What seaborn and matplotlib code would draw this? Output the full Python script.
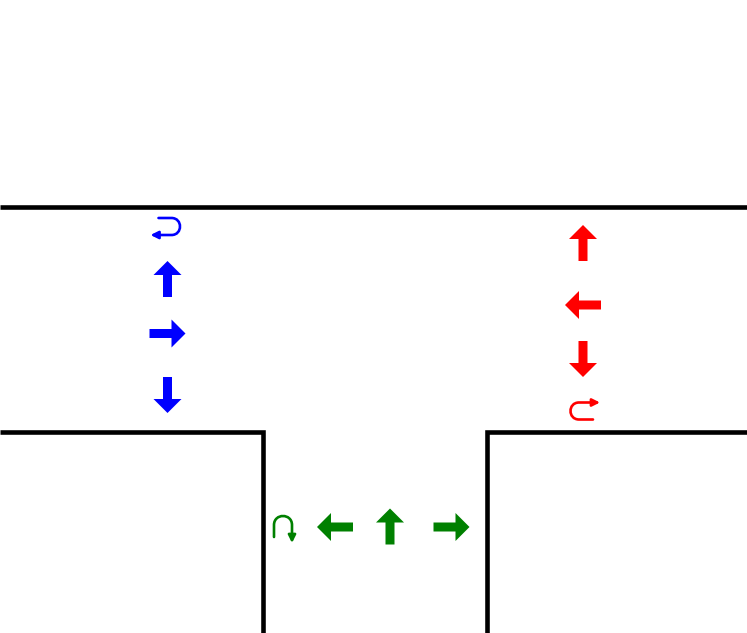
import numpy as np
import pandas as pd
import matplotlib
matplotlib.use("Agg")
import matplotlib.pyplot as plt
import seaborn as sns
from matplotlib.path import Path
from matplotlib.patches import FancyArrowPatch

# Kerb / road edge lines (pixel coords, y grows downward)
edge_names = ["top", "top", "left", "left", "left", "right", "right", "right"]
edge_x = [0, 747, 0, 262.5, 262.5, 747, 487, 487]
edge_y = [207, 207, 431.5, 431.5, 633, 431.5, 431.5, 633]

# Straight lane arrows: centre, direction
blue_x = [167.5, 167.5, 167.5]
blue_y = [279, 333.5, 395]
blue_dir = ["up", "right", "down"]

red_x = [583, 583, 583]
red_y = [243, 305, 359]
red_dir = ["up", "left", "down"]

green_x = [335, 390, 451.5]
green_y = [527, 526.5, 527]
green_dir = ["left", "up", "right"]

# U-turn markers: centre of the bend, opening direction
uturn_x = [171.5, 579, 283]
uturn_y = [226.5, 411, 525]
uturn_kind = ["blue", "red", "green"]

colors = {"blue": "#0000ff", "red": "#ff0000", "green": "#008000"}

sns.set_style("white")
fig = plt.figure(figsize=(7.47, 6.33), dpi=100)
ax = fig.add_axes([0, 0, 1, 1])

df = pd.DataFrame({"seg": edge_names, "x": edge_x, "y": edge_y})
sns.lineplot(data=df, x="x", y="y", units="seg", estimator=None, sort=False,
             color="black", lw=3.3, ax=ax, legend=False,
             solid_joinstyle="miter", solid_capstyle="butt")

vec = {"up": (0, -1), "down": (0, 1), "left": (-1, 0), "right": (1, 0)}
L = 36


def lane_arrow(x, y, d, c):
    ux, uy = vec[d]
    ax.arrow(x - ux * L / 2, y - uy * L / 2, ux * L, uy * L, width=9,
             head_width=28, head_length=14, length_includes_head=True,
             color=c, lw=0)


for xs, ys, ds, c in [(blue_x, blue_y, blue_dir, "blue"),
                      (red_x, red_y, red_dir, "red"),
                      (green_x, green_y, green_dir, "green")]:
    for x, y, d in zip(xs, ys, ds):
        lane_arrow(x, y, d, colors[c])


def uturn(cx, cy, kind):
    r = 8.5
    k = 4 / 3 * r
    C = Path.CURVE4
    if kind == "blue":
        # bend on the right, arrow leaves the bottom towards the left
        verts = [(cx - 13, cy - r), (cx, cy - r), (cx + k, cy - r),
                 (cx + k, cy + r), (cx, cy + r), (cx - 21, cy + r)]
    elif kind == "red":
        # bend on the left, arrow leaves the top towards the right
        verts = [(cx + 14, cy + r), (cx, cy + r), (cx - k, cy + r),
                 (cx - k, cy - r), (cx, cy - r), (cx + 21, cy - r)]
    else:
        # bend on top, arrow leaves the right leg downward
        verts = [(cx - 9, cy + 12), (cx - 9, cy), (cx - 9, cy - 12),
                 (cx + 9, cy - 12), (cx + 9, cy), (cx + 9, cy + 18)]
    codes = [Path.MOVETO, Path.LINETO, C, C, C, Path.LINETO]
    p = FancyArrowPatch(path=Path(verts, codes), arrowstyle="-|>",
                        mutation_scale=11, lw=1.9, color=colors[kind])
    ax.add_patch(p)


for x, y, kd in zip(uturn_x, uturn_y, uturn_kind):
    uturn(x, y, kd)

ax.set_xlim(0, 747)
ax.set_ylim(633, 0)
ax.set_aspect("equal")
ax.axis("off")
fig.savefig("out.png", dpi=100, facecolor="white")
